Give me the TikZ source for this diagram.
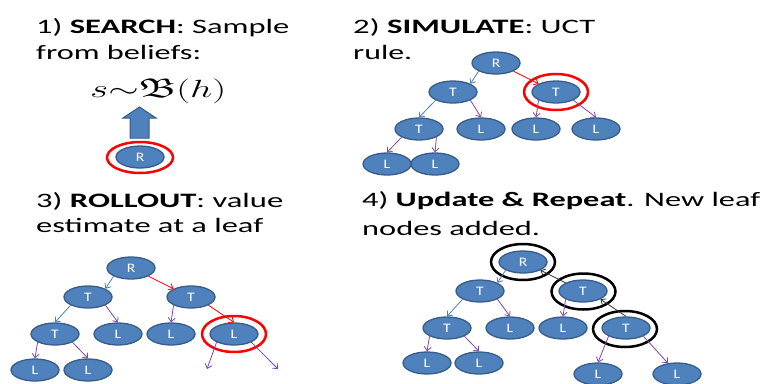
\documentclass[tikz,border=0pt]{standalone}
\usepackage{fontspec}
\setmainfont{Carlito}
\usepackage{amssymb}
\usetikzlibrary{shapes.geometric,arrows.meta}
\definecolor{nfill}{HTML}{4F81BD}
\definecolor{nbord}{HTML}{385D8A}
\definecolor{eblue}{HTML}{4A7EBB}
\definecolor{epurp}{HTML}{7B45AD}
\definecolor{ered}{HTML}{FF0000}
\newcommand{\ndlab}[1]{\scalebox{1.2}[1]{#1}}
\tikzset{
  nd/.style={ellipse, fill=nfill, draw=nbord, line width=1.3pt, minimum width=48pt, minimum height=22pt, inner sep=0pt, text=white, font=\fontsize{13}{13}\selectfont},
  hl/.style={ellipse, draw=ered, line width=2.5pt, minimum width=64pt, minimum height=36pt, inner sep=0pt},
  hlk/.style={hl, draw=black},
  ar/.style={line width=0.8pt, -{Straight Barb[length=4pt,width=7pt]}},
  ab/.style={ar, draw=eblue},
  ap/.style={ar, draw=epurp},
  aR/.style={ar, draw=ered},
  aK/.style={ar, draw=black!80},
  ttl/.style={anchor=base west, inner sep=0pt, font=\fontsize{20.5}{24}\selectfont},
}
\begin{document}
\begin{tikzpicture}[x=1pt,y=-1pt]
\fill[white] (0,0) rectangle (765,383);
\useasboundingbox (0,0) rectangle (765,383);

% ---------- titles ----------
\node[ttl] (t1a) at (36,33) {\resizebox{253pt}{\height}{1) \textbf{SEARCH}: Sample}};
\node[ttl] (t1b) at (36,59) {\resizebox{165pt}{\height}{from beliefs:}};
\node[ttl] (t2a) at (353,33) {\resizebox{242pt}{\height}{2) \textbf{SIMULATE}: UCT}};
\node[ttl] (t2b) at (353,59) {\resizebox{59pt}{\height}{rule.}};
\node[ttl] (t3a) at (36,207) {\resizebox{247pt}{\height}{3) \textbf{ROLLOUT}: value}};
\node[ttl] (t3b) at (36,232) {\resizebox{227pt}{\height}{estimate at a leaf}};
\node[ttl] (t4a) at (362,206) {\resizebox{398pt}{\height}{4) \textbf{Update \& Repeat}. New leaf}};
\node[ttl] (t4b) at (362,235) {\resizebox{178pt}{\height}{nodes added.}};

% ---------- panel 1 ----------
\node[anchor=base west, inner sep=0pt, font=\fontsize{27}{27}\selectfont] (form) at (90,97) {\resizebox{136pt}{\height}{$s{\sim}\mathfrak{B}(h)$}};
\filldraw[fill=nfill, draw=nbord, line width=1pt] (130,138) -- (130,118) -- (123,118) -- (139.5,107) -- (156,118) -- (149,118) -- (149,138) -- cycle;
\node[nd] (p1r) at (140,157) {\ndlab{R}};
\node[hl, minimum width=66pt, minimum height=31pt] (p1c) at (140,157.5) {};

% ---------- panel 2 ----------
\node[nd] (p2r) at (496,63) {\ndlab{R}};
\node[nd] (p2t1) at (453,92) {\ndlab{T}};
\node[nd] (p2t2) at (556,92) {\ndlab{T}};
\node[nd] (p2t3) at (419,129) {\ndlab{T}};
\node[nd] (p2l1) at (481,129) {\ndlab{L}};
\node[nd] (p2l2) at (536,129) {\ndlab{L}};
\node[nd] (p2l3) at (596,129) {\ndlab{L}};
\node[nd] (p2l4) at (387,164) {\ndlab{L}};
\node[nd] (p2l5) at (435,164) {\ndlab{L}};
\node[hl] (p2c) at (556,92) {};
\draw[ab] (p2r.south west) -- (p2t1.north east);
\draw[aR] (p2r.south east) -- (p2t2.north west);
\draw[ab] (p2t1.south west) -- (p2t3.north);
\draw[ap] (p2t1.south east) -- (p2l1.north);
\draw[ap] (p2t2.south west) -- (p2l2.north);
\draw[ap] (p2t2.south east) -- (p2l3.north);
\draw[ap] (p2t3.south west) -- (p2l4.north);
\draw[ap] (p2t3.south east) -- (p2l5.north);

% ---------- panel 3 ----------
\node[nd] (p3r) at (131,268) {\ndlab{R}};
\node[nd] (p3t1) at (88,297) {\ndlab{T}};
\node[nd] (p3t2) at (191,297) {\ndlab{T}};
\node[nd] (p3t3) at (55,334) {\ndlab{T}};
\node[nd] (p3l1) at (118,334) {\ndlab{L}};
\node[nd] (p3l2) at (171,334) {\ndlab{L}};
\node[nd] (p3l3) at (234,334) {\ndlab{L}};
\node[nd] (p3l4) at (35,370) {\ndlab{L}};
\node[nd] (p3l5) at (88,370) {\ndlab{L}};
\node[hl] (p3c) at (234,334) {};
\coordinate (p3e1) at (207,369);
\coordinate (p3e2) at (278,369);
\draw[ab] (p3r.south west) -- (p3t1.north east);
\draw[aR] (p3r.south east) -- (p3t2.north west);
\draw[ab] (p3t1.south west) -- (p3t3.north);
\draw[ap] (p3t1.south east) -- (p3l1.north);
\draw[ap] (p3t2.south west) -- (p3l2.north);
\draw[aR] (p3t2.south east) -- (p3l3.north);
\draw[ap] (p3t3.south west) -- (p3l4.north);
\draw[ap] (p3t3.south east) -- (p3l5.north);
\draw[ap] (p3l3.south west) -- (p3e1);
\draw[ap] (p3l3.south east) -- (p3e2);

% ---------- panel 4 ----------
\node[nd] (p4r) at (523,262) {\ndlab{R}};
\node[nd] (p4t1) at (480,291) {\ndlab{T}};
\node[nd] (p4t2) at (583,291) {\ndlab{T}};
\node[nd] (p4t3) at (447,328) {\ndlab{T}};
\node[nd] (p4l1) at (510,328) {\ndlab{L}};
\node[nd] (p4l2) at (563,328) {\ndlab{L}};
\node[nd] (p4t4) at (626,328) {\ndlab{T}};
\node[nd] (p4l4) at (427,363) {\ndlab{L}};
\node[nd] (p4l5) at (479,363) {\ndlab{L}};
\node[nd] (p4l6) at (598,374) {\ndlab{L}};
\node[nd] (p4l7) at (677,374) {\ndlab{L}};
\node[hlk] (p4c1) at (523,262) {};
\node[hlk] (p4c2) at (583.5,291.5) {};
\node[hlk] (p4c3) at (625,329) {};
\draw[ab] (p4r.south west) -- (p4t1.north east);
\draw[ab] (p4t1.south west) -- (p4t3.north);
\draw[ap] (p4t1.south east) -- (p4l1.north);
\draw[ap] (p4t2.south west) -- (p4l2.north);
\draw[ap] (p4t3.south west) -- (p4l4.north);
\draw[ap] (p4t3.south east) -- (p4l5.north);
\draw[ap] (p4t4.south west) -- (p4l6.north);
\draw[ap] (p4t4.south east) -- (p4l7.130);
\draw[aK] (p4t4.north) -- (p4t2.south east);
\draw[aK] (p4t2.north west) -- (p4r.south east);
\end{tikzpicture}
\end{document}
